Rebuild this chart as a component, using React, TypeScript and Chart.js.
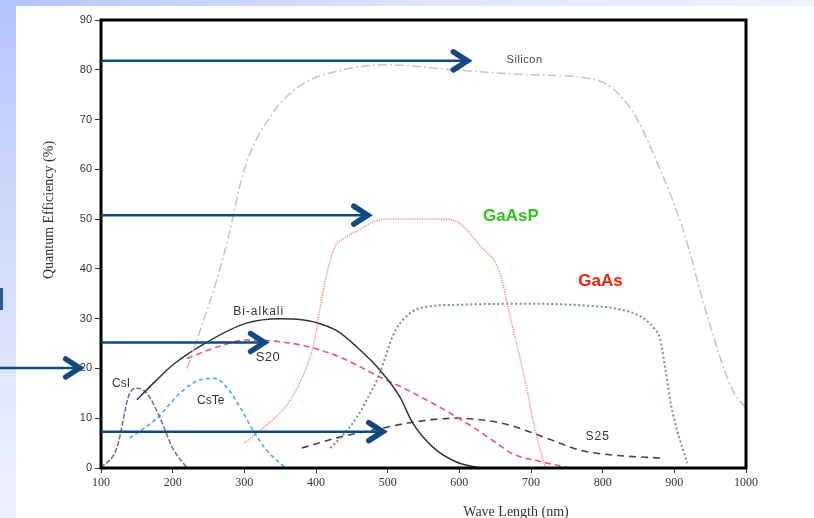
import React, { useEffect, useRef } from "react";
import { Chart, registerables } from "chart.js";

Chart.register(...registerables);

// ---- data (wavelength nm / quantum efficiency %) ----
const siliconNm = [220, 262, 277, 300, 338, 380, 438, 500, 590, 700, 790, 840, 880, 912, 945, 980, 1000];
const siliconQe = [20, 38, 46, 60, 71, 77, 80, 81, 80, 79, 78, 72, 60, 48, 31, 16, 12];

const gaasPNm = [300, 330, 359, 377, 390, 398, 410, 425, 440, 460, 480, 500, 577, 600, 628, 656, 670, 694, 705, 720];
const gaasPQe = [5, 8.5, 12.6, 17, 21.5, 25.7, 35.7, 44, 46.2, 47.8, 49.5, 50, 50, 49.2, 44.8, 39.4, 31, 16, 8, 0];

const gaasNm = [420, 440, 457, 470, 485, 495, 503, 512, 521, 535, 554, 600, 700, 780, 820, 845, 858, 872, 880, 887, 896, 903, 918];
const gaasQe = [4, 7, 10.2, 13.5, 17.7, 21.5, 25, 28, 29.7, 31.5, 32.4, 32.8, 33, 32.6, 32, 31, 30, 28, 26, 20.3, 12.2, 8, 1];

const biAlkaliNm = [150, 175, 200, 248, 303, 350, 380, 398, 430, 457, 489, 517, 535, 563, 596, 628];
const biAlkaliQe = [13.7, 17.3, 20.7, 25.3, 29.1, 30, 29.8, 29.3, 27.5, 24.3, 19.7, 14.3, 9, 4.2, 1.2, 0];

const s20Nm = [220, 262, 303, 331, 364, 391, 433, 489, 527, 573, 619, 652, 675, 710, 755];
const s20Qe = [22, 24.3, 25.7, 25.6, 25.1, 24.3, 22.3, 18.3, 15.7, 12.2, 8.2, 5, 2.8, 1.4, 0];

const s25Nm = [380, 433, 499, 535, 596, 630, 670, 722, 768, 814, 880];
const s25Qe = [4, 6.2, 8.2, 9.2, 10, 9.7, 8.6, 6, 3.6, 2.6, 2];

const csiNm = [100, 122, 140, 150, 164, 182, 200, 220];
const csiQe = [0, 4, 15, 16, 15, 10.2, 4, 0];

const csteNm = [140, 178, 210, 238, 259, 275, 294, 312, 331, 356];
const csteQe = [6, 10, 15, 17.7, 18, 16.3, 12.2, 7.6, 3.6, 0.2];

// axis ranges
const xMin = 100, xMax = 1000, xStep = 100;
const yMin = 0, yMax = 90, yStep = 10;
const xTitle = "Wave Length (nm)";
const yTitle = "Quantum Efficiency (%)";

// in-plot labels (text, nm, %)
const labelText = ["Silicon", "GaAsP", "GaAs", "Bi-alkali", "S20", "CsI", "CsTe", "S25"];
const labelNm = [691, 672, 797, 320, 333, 128, 253, 793];
const labelQe = [81.9, 50.6, 37.5, 31.5, 22.3, 16.9, 13.5, 6.2];

// annotation arrows (level %, start nm, tip nm)
const arrowQe = [81.8, 50.8, 25.2, 20.1, 7.3];
const arrowFromNm = [100, 100, 100, -45, 100];
const arrowTipNm = [614, 475, 331, 73, 496];

const pts = (xs: number[], ys: number[]) => xs.map((x, i) => ({ x, y: ys[i] }));

const labelStyle: Record<string, { font: string; color: string; spacing: string }> = {
  Silicon: { font: "11px 'Liberation Sans'", color: "#444", spacing: "0.5px" },
  GaAsP: { font: "bold 17px 'Liberation Sans'", color: "#2fc51a", spacing: "0px" },
  GaAs: { font: "bold 17px 'Liberation Sans'", color: "#f5200f", spacing: "0px" },
  "Bi-alkali": { font: "12px 'Liberation Sans'", color: "#333", spacing: "1px" },
  S20: { font: "13px 'Liberation Sans'", color: "#333", spacing: "0.5px" },
  CsI: { font: "12px 'Liberation Sans'", color: "#333", spacing: "0px" },
  CsTe: { font: "12px 'Liberation Sans'", color: "#333", spacing: "0px" },
  S25: { font: "12px 'Liberation Sans'", color: "#333", spacing: "1px" },
};

const overlay = {
  id: "overlay",
  afterDatasetsDraw(chart: any) {
    const { ctx, chartArea: a, scales } = chart;
    const xs = scales.x, ys = scales.y;
    ctx.save();
    // plot frame
    ctx.strokeStyle = "#000";
    ctx.lineWidth = 3;
    ctx.strokeRect(a.left, a.top, a.right - a.left, a.bottom - a.top);

    // labels
    ctx.textAlign = "center";
    ctx.textBaseline = "middle";
    labelText.forEach((t, i) => {
      const st = labelStyle[t];
      ctx.font = st.font;
      ctx.fillStyle = st.color;
      (ctx as any).letterSpacing = st.spacing;
      ctx.fillText(t, xs.getPixelForValue(labelNm[i]), ys.getPixelForValue(labelQe[i]));
    });
    (ctx as any).letterSpacing = "0px";

    // arrows
    ctx.strokeStyle = "#124a80";
    arrowQe.forEach((q, i) => {
      const y = ys.getPixelForValue(q);
      const x0 = xs.getPixelForValue(arrowFromNm[i]);
      const x1 = xs.getPixelForValue(arrowTipNm[i]);
      ctx.lineWidth = 2.5;
      ctx.lineCap = "butt";
      ctx.beginPath();
      ctx.moveTo(x0, y);
      ctx.lineTo(x1 - 3, y);
      ctx.stroke();
      ctx.lineWidth = 5.5;
      ctx.lineCap = "round";
      ctx.lineJoin = "miter";
      ctx.beginPath();
      ctx.moveTo(x1 - 16, y - 9);
      ctx.lineTo(x1 - 2, y);
      ctx.lineTo(x1 - 16, y + 9);
      ctx.stroke();
    });

    // axis titles
    ctx.fillStyle = "#333";
    ctx.font = "14px 'Liberation Serif'";
    ctx.textAlign = "center";
    ctx.textBaseline = "middle";
    ctx.fillText(xTitle, a.left + 415, a.bottom + 44);
    ctx.translate(a.left - 52, a.top + 190);
    ctx.rotate(-Math.PI / 2);
    ctx.fillText(yTitle, 0, 0);
    ctx.restore();

    // stray slide glyph at far left
    ctx.save();
    ctx.fillStyle = "#2a5a9a";
    ctx.fillRect(0, 288, 3, 22);
    ctx.restore();
  },
};

export default function App() {
  const ref = useRef<HTMLCanvasElement>(null);
  useEffect(() => {
    document.body.style.margin = "0";
    const line = (data: any, color: string, dash: number[], width = 1.5, cap: any = "butt") => ({
      data,
      borderColor: color,
      borderDash: dash,
      borderWidth: width,
      borderCapStyle: cap,
      pointRadius: 0,
      fill: false,
      cubicInterpolationMode: "monotone" as const,
    });
    const chart = new Chart(ref.current!, {
      type: "line",
      data: {
        datasets: [
          line(pts(siliconNm, siliconQe), "#c4c4c4", [9, 3, 2, 3], 1.5),
          line(pts(gaasPNm, gaasPQe), "#ee8a7c", [1.2, 1.2], 1.5),
          line(pts(gaasNm, gaasQe), "#6f948c", [2, 2.5], 2),
          line(pts(biAlkaliNm, biAlkaliQe), "#333333", [], 1.5),
          line(pts(s20Nm, s20Qe), "#e4557c", [6, 4], 1.6),
          line(pts(s25Nm, s25Qe), "#444444", [7, 5], 1.6),
          line(pts(csiNm, csiQe), "#7862a6", [5, 2], 1.5),
          line(pts(csteNm, csteQe), "#45a8e4", [4, 3], 1.6),
        ] as any,
      },
      options: {
        responsive: false,
        animation: false,
        devicePixelRatio: 1,
        layout: { padding: { top: 20, right: 68, left: 0, bottom: 0 } },
        plugins: { legend: { display: false }, tooltip: { enabled: false } },
        scales: {
          x: {
            type: "linear",
            min: xMin,
            max: xMax,
            ticks: {
              stepSize: xStep,
              color: "#333",
              font: { family: "'Liberation Serif'", size: 12 },
              padding: 3,
              maxRotation: 0,
              callback: (v: any) => String(v),
            },
            grid: { drawOnChartArea: false, drawTicks: true, tickLength: 5, color: "#333" },
            border: { display: false },
            afterFit: (s: any) => {
              s.height = 50;
            },
          },
          y: {
            type: "linear",
            min: yMin,
            max: yMax,
            ticks: {
              stepSize: yStep,
              color: "#333",
              font: { family: "'Liberation Sans Narrow', 'Liberation Sans'", size: 11 },
              padding: 3,
              callback: (v: any) => String(v),
            },
            grid: { drawOnChartArea: false, drawTicks: true, tickLength: 6, color: "#333" },
            border: { display: false },
            afterFit: (s: any) => {
              s.width = 101;
            },
          },
        },
      },
      plugins: [overlay],
    });
    return () => chart.destroy();
  }, []);

  return (
    <div style={{ position: "relative", width: 814, height: 518, overflow: "hidden", background: "#fff" }}>
      <div
        style={{
          position: "absolute",
          left: 0,
          top: 0,
          width: 814,
          height: 6,
          background: "linear-gradient(to right, #b4c4ff, #dde4fd 50%, #f0f2fe)",
        }}
      />
      <div
        style={{
          position: "absolute",
          left: 0,
          top: 0,
          width: 16,
          height: 518,
          background: "linear-gradient(to bottom, #b4c4ff, #d4dcfd 50%, #eef2fe)",
        }}
      />
      <canvas ref={ref} width={814} height={518} style={{ position: "absolute", left: 0, top: 0 }} />
    </div>
  );
}
